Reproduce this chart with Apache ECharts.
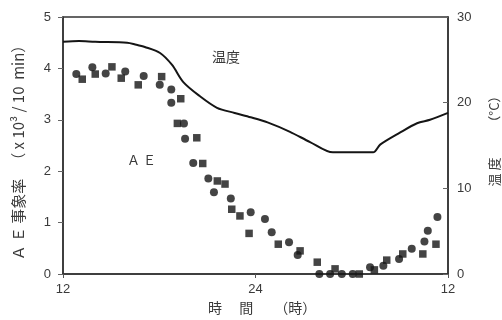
<!DOCTYPE html>
<html><head><meta charset="utf-8">
<script src="https://cdn.jsdelivr.net/npm/echarts@6/dist/echarts.min.js"></script>
<style>html,body{margin:0;padding:0;background:#fff}#c{width:502px;height:320px}</style>
</head><body><div id="c"></div>
<script>
// Time in hours (12 = noon, 24 = midnight, 36 = next noon)
const xTicks = [12, 24, 36];
const xTickLabels = ['12', '24', '12'];
const aeTicks = [0, 1, 2, 3, 4, 5];
const tempTicks = [0, 10, 20, 30];

// AE event rate (x10^3 / 10 min), circles
const circleHours = [12.83, 13.83, 14.66, 15.88, 17.03, 18.03, 18.75, 18.75, 19.54, 19.61, 20.12, 21.06, 21.41, 22.46, 23.70, 24.59, 25.01, 26.09, 26.63, 27.98, 28.65, 29.38, 30.06, 31.14, 31.97, 32.95, 33.74, 34.53, 34.74, 35.34];
const circleAE    = [3.89, 4.02, 3.90, 3.94, 3.85, 3.68, 3.59, 3.33, 2.93, 2.63, 2.16, 1.86, 1.59, 1.47, 1.20, 1.07, 0.81, 0.62, 0.37, 0.00, 0.00, 0.00, 0.00, 0.13, 0.16, 0.29, 0.49, 0.63, 0.84, 1.11];

// AE event rate, squares
const squareHours = [13.20, 14.01, 15.05, 15.63, 16.69, 18.15, 19.34, 19.13, 20.34, 20.71, 21.62, 22.10, 22.52, 23.03, 23.60, 25.42, 26.78, 27.85, 28.96, 30.47, 31.41, 32.18, 33.18, 34.43, 35.25];
const squareAE    = [3.79, 3.89, 4.03, 3.81, 3.68, 3.84, 3.41, 2.93, 2.65, 2.15, 1.81, 1.75, 1.26, 1.13, 0.79, 0.58, 0.45, 0.23, 0.10, 0.00, 0.08, 0.27, 0.39, 0.39, 0.58];

// Temperature (°C)
const tempHours = [12, 13, 14, 16, 16.5, 17.1, 18.05, 18.8, 19.5, 20.5, 21.6, 22.7, 23.7, 24.75, 26.15, 27.4, 28.83, 31.33, 31.77, 33.0, 34.07, 34.88, 36];
const tempVals  = [27.1, 27.2, 27.1, 27.0, 26.8, 26.5, 25.8, 24.4, 22.4, 20.8, 19.4, 18.8, 18.3, 17.7, 16.6, 15.4, 14.2, 14.2, 15.1, 16.5, 17.6, 18.0, 18.8];

const zip = (a, b) => a.map((v, i) => [v, b[i]]);
const txt = '#3a3a3a';
const font = '"Liberation Sans", Arial, sans-serif';
const cjk = '"Noto Sans CJK JP", "Liberation Sans", sans-serif';

const chart = echarts.init(document.getElementById('c'), null, {renderer: 'canvas'});
chart.setOption({
  animation: false,
  backgroundColor: '#fff',
  grid: {left: 63, right: 54, top: 17, bottom: 46, show: true, borderColor: '#333', borderWidth: 1.5, backgroundColor: 'transparent'},
  xAxis: {
    type: 'value', min: xTicks[0], max: xTicks[xTicks.length - 1], interval: 12,
    axisLine: {show: true, lineStyle: {color: '#333', width: 1.5}},
    axisTick: {show: true, length: 4, inside: false, lineStyle: {color: '#555'}},
    axisLabel: {color: txt, fontSize: 13, fontFamily: font, margin: 9,
      formatter: v => xTickLabels[xTicks.indexOf(v)] ?? ''},
    splitLine: {show: false}
  },
  yAxis: [{
    type: 'value', min: aeTicks[0], max: aeTicks[aeTicks.length - 1], interval: 1,
    axisLine: {show: true, lineStyle: {color: '#333', width: 1.5}},
    axisTick: {show: true, length: 5, lineStyle: {color: '#666'}},
    axisLabel: {color: txt, fontSize: 13, fontFamily: font, margin: 12},
    splitLine: {show: false}
  }, {
    type: 'value', min: tempTicks[0], max: tempTicks[tempTicks.length - 1], interval: 10, position: 'right',
    axisLine: {show: true, lineStyle: {color: '#333', width: 1.5}},
    axisTick: {show: true, length: 5, inside: true, lineStyle: {color: '#666'}},
    axisLabel: {color: txt, fontSize: 13, fontFamily: font, margin: 9},
    splitLine: {show: false}
  }],
  series: [{
    type: 'line', yAxisIndex: 1, data: zip(tempHours, tempVals), showSymbol: false, smooth: 0.3,
    lineStyle: {color: '#151515', width: 2}, z: 2
  }, {
    type: 'scatter', yAxisIndex: 0, data: zip(circleHours, circleAE), symbol: 'circle', symbolSize: 8,
    itemStyle: {color: '#151515'}, z: 3
  }, {
    type: 'scatter', yAxisIndex: 0, data: zip(squareHours, squareAE), symbol: 'rect', symbolSize: 7.5,
    itemStyle: {color: '#151515'}, z: 3
  }],
  graphic: [
    {type: 'text', left: 212, top: 50, style: {text: '温度', font: '14px ' + cjk, fill: txt}},
    {type: 'text', left: 127, top: 154, style: {text: 'Ａ Ｅ', font: '13px ' + cjk, fill: txt}},
    {type: 'text', left: 208, top: 301, style: {text: '時　 間　　（時）', font: '14px ' + cjk, fill: txt}},
    {type: 'text', x: 18, y: 149, rotation: Math.PI / 2,
      style: {text: 'Ａ Ｅ 事象率 　（ x 10³ / 10  min）', font: '15px ' + cjk, fill: txt, align: 'center', verticalAlign: 'middle'}},
    {type: 'text', x: 494, y: 138, rotation: Math.PI / 2,
      style: {text: '温 度　　 （°C）', font: '13px ' + cjk, fill: txt, align: 'center', verticalAlign: 'middle'}}
  ]
});
</script></body></html>
